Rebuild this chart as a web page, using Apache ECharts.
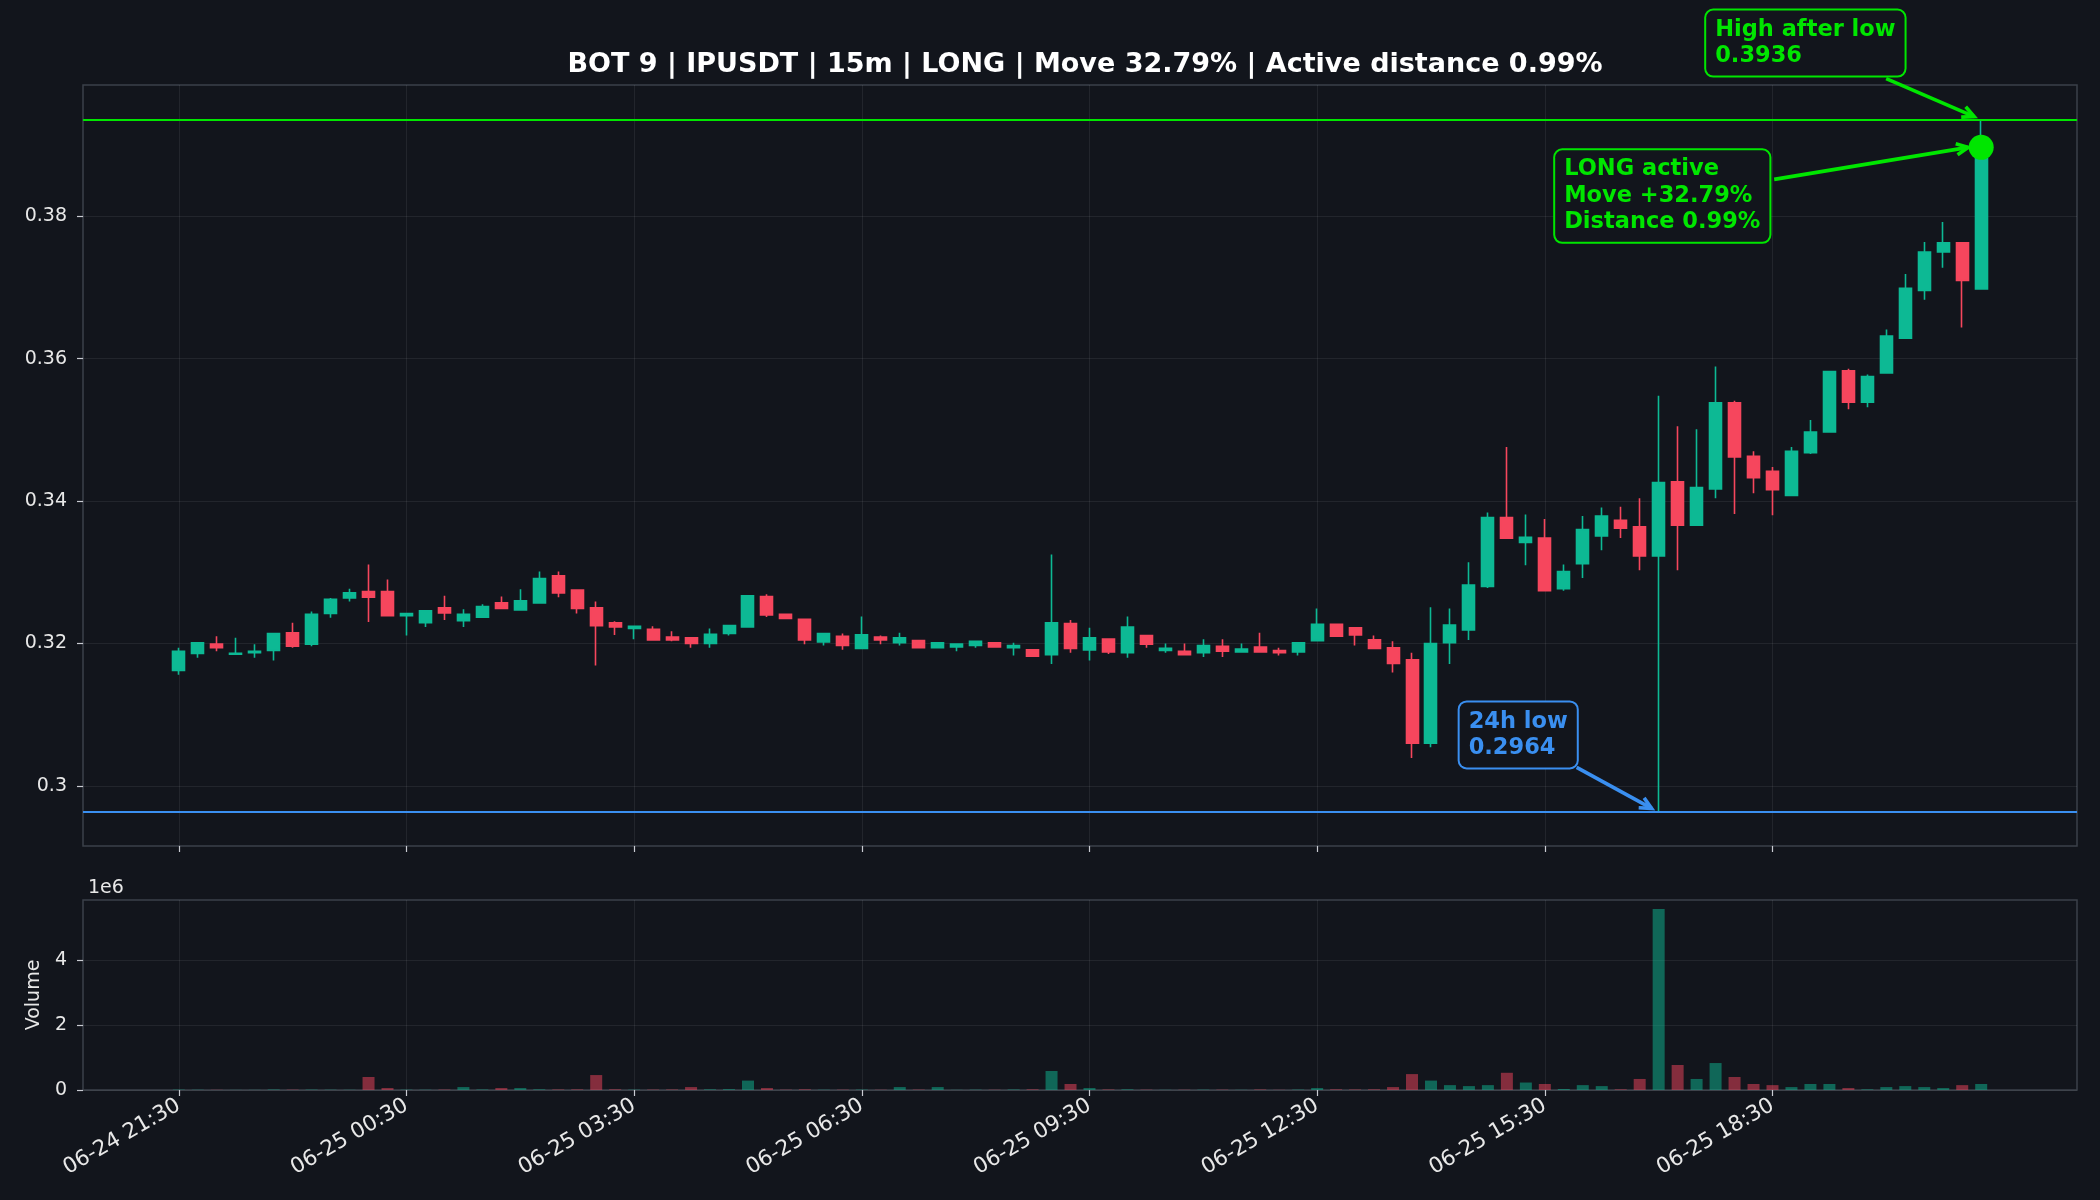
<!DOCTYPE html>
<html>
<head>
<meta charset="utf-8">
<title>BOT 9 IPUSDT</title>
<script src="https://cdn.jsdelivr.net/npm/echarts@6/dist/echarts.min.js"></script>
<style>
  html, body { margin: 0; padding: 0; background: #12151c; }
  #chart { width: 2100px; height: 1200px; }
</style>
</head>
<body>
<div id="chart"></div>
<script>
// 15m candles, 06-24 21:30 -> 06-25 21:15
const opens = [
  0.3162, 0.3186, 0.3199, 0.3185, 0.3187, 0.3190, 0.3215, 0.3199, 0.3242, 0.3264,
  0.3273, 0.3273, 0.3239, 0.3229, 0.3250, 0.3232, 0.3237, 0.3257, 0.3247, 0.3257,
  0.3295, 0.3275, 0.3250, 0.3229, 0.3221, 0.3220, 0.3209, 0.3208, 0.3200, 0.3214,
  0.3223, 0.3266, 0.3241, 0.3234, 0.3202, 0.3210, 0.3193, 0.3209, 0.3201, 0.3204,
  0.3194, 0.3195, 0.3197, 0.3201, 0.3194, 0.3191, 0.3184, 0.3228, 0.3191, 0.3206,
  0.3187, 0.3211, 0.3190, 0.3189, 0.3187, 0.3196, 0.3188, 0.3195, 0.3190, 0.3188,
  0.3204, 0.3227, 0.3222, 0.3205, 0.3194, 0.3177, 0.3060, 0.3201, 0.3219, 0.3280,
  0.3377, 0.3342, 0.3348, 0.3277, 0.3312, 0.3351, 0.3373, 0.3364, 0.3323, 0.3427,
  0.3366, 0.3417, 0.3538, 0.3463, 0.3442, 0.3408, 0.3468, 0.3497, 0.3583, 0.3539,
  0.3580, 0.3629, 0.3696, 0.3750, 0.3763, 0.3698
];
const closes = [
  0.3189, 0.3201, 0.3194, 0.3186, 0.3189, 0.3214, 0.3196, 0.3241, 0.3262, 0.3271,
  0.3265, 0.3239, 0.3242, 0.3246, 0.3243, 0.3241, 0.3252, 0.3249, 0.3260, 0.3291,
  0.3271, 0.3249, 0.3225, 0.3223, 0.3224, 0.3205, 0.3205, 0.3200, 0.3213, 0.3225,
  0.3267, 0.3240, 0.3235, 0.3205, 0.3214, 0.3197, 0.3212, 0.3205, 0.3208, 0.3194,
  0.3201, 0.3199, 0.3203, 0.3195, 0.3197, 0.3182, 0.3229, 0.3193, 0.3208, 0.3188,
  0.3223, 0.3199, 0.3193, 0.3184, 0.3197, 0.3189, 0.3192, 0.3188, 0.3187, 0.3201,
  0.3227, 0.3210, 0.3212, 0.3193, 0.3172, 0.3060, 0.3200, 0.3226, 0.3282, 0.3377,
  0.3348, 0.3349, 0.3274, 0.3301, 0.3360, 0.3379, 0.3362, 0.3323, 0.3426, 0.3366,
  0.3419, 0.3538, 0.3462, 0.3433, 0.3416, 0.3470, 0.3497, 0.3582, 0.3539, 0.3575,
  0.3632, 0.3699, 0.3750, 0.3763, 0.3710, 0.3897
];
const lows = [
  0.3156, 0.3180, 0.3189, 0.3185, 0.3180, 0.3176, 0.3194, 0.3196, 0.3236, 0.3259,
  0.3230, 0.3239, 0.3211, 0.3223, 0.3233, 0.3223, 0.3237, 0.3249, 0.3247, 0.3256,
  0.3265, 0.3242, 0.3169, 0.3212, 0.3206, 0.3205, 0.3203, 0.3194, 0.3194, 0.3211,
  0.3222, 0.3237, 0.3235, 0.3199, 0.3197, 0.3191, 0.3193, 0.3199, 0.3197, 0.3194,
  0.3194, 0.3189, 0.3194, 0.3195, 0.3183, 0.3182, 0.3171, 0.3187, 0.3176, 0.3185,
  0.3180, 0.3194, 0.3187, 0.3184, 0.3181, 0.3181, 0.3187, 0.3187, 0.3183, 0.3183,
  0.3204, 0.3210, 0.3197, 0.3192, 0.3159, 0.3039, 0.3054, 0.3171, 0.3205, 0.3278,
  0.3348, 0.3310, 0.3274, 0.3274, 0.3292, 0.3331, 0.3348, 0.3303, 0.2964, 0.3303,
  0.3366, 0.3404, 0.3382, 0.3411, 0.3380, 0.3408, 0.3466, 0.3496, 0.3529, 0.3532,
  0.3580, 0.3629, 0.3683, 0.3728, 0.3644, 0.3698
];
const highs = [
  0.3194, 0.3201, 0.3210, 0.3208, 0.3199, 0.3214, 0.3229, 0.3245, 0.3264, 0.3277,
  0.3311, 0.3290, 0.3242, 0.3246, 0.3267, 0.3248, 0.3255, 0.3266, 0.3276, 0.3301,
  0.3301, 0.3276, 0.3259, 0.3231, 0.3224, 0.3224, 0.3217, 0.3208, 0.3221, 0.3225,
  0.3267, 0.3269, 0.3241, 0.3234, 0.3215, 0.3214, 0.3238, 0.3211, 0.3215, 0.3204,
  0.3201, 0.3199, 0.3204, 0.3201, 0.3201, 0.3191, 0.3325, 0.3233, 0.3222, 0.3206,
  0.3238, 0.3211, 0.3200, 0.3200, 0.3206, 0.3206, 0.3200, 0.3215, 0.3194, 0.3201,
  0.3249, 0.3227, 0.3222, 0.3211, 0.3203, 0.3187, 0.3251, 0.3249, 0.3314, 0.3384,
  0.3476, 0.3381, 0.3375, 0.3311, 0.3379, 0.3391, 0.3392, 0.3404, 0.3548, 0.3505,
  0.3501, 0.3589, 0.3541, 0.3470, 0.3448, 0.3476, 0.3514, 0.3583, 0.3586, 0.3578,
  0.3641, 0.3719, 0.3764, 0.3792, 0.3764, 0.3936
];
const volumes = [
  12000, 8000, 6000, 4000, 5000, 15000, 10000, 12000, 9000, 7000,
  400000, 60000, 10000, 8000, 12000, 90000, 15000, 60000, 60000, 20000,
  15000, 18000, 460000, 20000, 10000, 12000, 15000, 90000, 20000, 25000,
  290000, 60000, 10000, 20000, 8000, 10000, 12000, 8000, 90000, 12000,
  90000, 6000, 10000, 8000, 15000, 20000, 585000, 185000, 60000, 15000,
  20000, 10000, 6000, 8000, 10000, 10000, 6000, 15000, 6000, 12000,
  60000, 20000, 15000, 20000, 90000, 490000, 290000, 150000, 120000, 150000,
  530000, 230000, 185000, 30000, 150000, 120000, 20000, 340000, 5570000, 770000,
  340000, 830000, 400000, 185000, 150000, 90000, 185000, 185000, 60000, 20000,
  90000, 120000, 90000, 60000, 150000, 185000
];

const xTickIndex = [0, 12, 24, 36, 48, 60, 72, 84];
const xTickLabels = [
  "06-24 21:30", "06-25 00:30", "06-25 03:30", "06-25 06:30",
  "06-25 09:30", "06-25 12:30", "06-25 15:30", "06-25 18:30"
];
const priceTicks = [0.30, 0.32, 0.34, 0.36, 0.38];
const priceTickLabels = ["0.3", "0.32", "0.34", "0.36", "0.38"];
const volumeTicks = [0, 2000000, 4000000];
const volumeTickLabels = ["0", "2", "4"];

const lowLevel = 0.2964;
const highLevel = 0.3936;
const lastClose = 0.3897;
const lowIndex = 78;
const lastIndex = 95;

const UP = "#0db994";
const DOWN = "#f6465d";
const LIME = "#00e600";
const BLUE = "#3a8ff0";
const BG = "#12151c";
const TEXT = "#e8e8e8";
const GRIDLINE = "rgba(255,255,255,0.07)";
const SPINE = "#3b4049";
const FONT = '"DejaVu Sans", sans-serif';

const candleData = opens.map((o, i) => [i, o, closes[i], lows[i], highs[i]]);
const volumeData = volumes.map((v, i) => ({
  value: [i, v],
  itemStyle: { color: closes[i] >= opens[i] ? UP : DOWN, opacity: 0.5 },
}));

function pickLabel(values, labels) {
  return function (v) {
    for (let k = 0; k < values.length; k++) {
      if (Math.abs(values[k] - v) < 1e-9 * Math.max(1, Math.abs(v))) return labels[k];
    }
    return "";
  };
}

const chart = echarts.init(document.getElementById("chart"), null, { renderer: "canvas" });

const xBase = {
  type: "value",
  min: -5.05,
  max: 100.05,
  axisLine: { show: false },
  axisTick: { show: true, customValues: xTickIndex, length: 6, lineStyle: { color: "#c9ccd2", width: 1.2 } },
  splitLine: { show: true, lineStyle: { color: GRIDLINE, width: 1 } },
};

const option = {
  backgroundColor: BG,
  animation: false,
  textStyle: { fontFamily: FONT },
  title: [
    {
      text: "BOT 9 | IPUSDT | 15m | LONG | Move 32.79% | Active distance 0.99%",
      left: 1080,
      top: 46,
      textAlign: "center",
      textStyle: { color: "#ffffff", fontSize: 27, fontWeight: "bold", fontFamily: FONT },
    },
    {
      text: "1e6",
      left: 83,
      top: 874,
      textStyle: { color: TEXT, fontSize: 19, fontWeight: "normal", fontFamily: FONT },
    },
  ],
  grid: [
    { left: 83, top: 85, width: 1994, height: 761, show: true, borderColor: SPINE, borderWidth: 1.5, backgroundColor: "transparent" },
    { left: 83, top: 900, width: 1994, height: 190, show: true, borderColor: SPINE, borderWidth: 1.5, backgroundColor: "transparent" },
  ],
  xAxis: [
    Object.assign({}, xBase, { gridIndex: 0, axisLabel: { show: false } }),
    Object.assign({}, xBase, {
      gridIndex: 1,
      axisLabel: {
        show: true,
        customValues: xTickIndex,
        formatter: pickLabel(xTickIndex, xTickLabels),
        rotate: 30,
        margin: 14,
        color: TEXT,
        fontSize: 21.5,
        fontFamily: FONT,
      },
    }),
  ],
  yAxis: [
    {
      type: "value",
      gridIndex: 0,
      min: 0.29154,
      max: 0.39846,
      axisLine: { show: false, onZero: false },
      axisTick: { show: true, customValues: priceTicks, length: 6, lineStyle: { color: "#c9ccd2", width: 1.2 } },
      axisLabel: { customValues: priceTicks, formatter: pickLabel(priceTicks, priceTickLabels), color: TEXT, fontSize: 19, margin: 16, fontFamily: FONT },
      splitLine: { show: true, lineStyle: { color: GRIDLINE, width: 1 } },
    },
    {
      type: "value",
      gridIndex: 1,
      min: 0,
      max: 5850000,
      name: "Volume",
      nameLocation: "middle",
      nameRotate: 90,
      nameGap: 34,
      nameTextStyle: { color: TEXT, fontSize: 19, fontFamily: FONT },
      axisLine: { show: false, onZero: false },
      axisTick: { show: true, customValues: volumeTicks, length: 6, lineStyle: { color: "#c9ccd2", width: 1.2 } },
      axisLabel: { customValues: volumeTicks, formatter: pickLabel(volumeTicks, volumeTickLabels), color: TEXT, fontSize: 19, margin: 16, fontFamily: FONT },
      splitLine: { show: true, lineStyle: { color: GRIDLINE, width: 1 } },
    },
  ],
  series: [
    {
      type: "candlestick",
      name: "IPUSDT",
      xAxisIndex: 0,
      yAxisIndex: 0,
      data: candleData,
      encode: { x: 0, y: [1, 2, 3, 4] },
      barWidth: 12.5,
      itemStyle: { color: UP, color0: DOWN, borderColor: UP, borderColor0: DOWN, borderWidth: 1.6 },
      markLine: {
        silent: true,
        precision: 6,
        symbol: ["none", "none"],
        label: { show: false },
        data: [
          { yAxis: highLevel, lineStyle: { color: LIME, width: 2.2, type: "solid" } },
          { yAxis: lowLevel, lineStyle: { color: BLUE, width: 2.2, type: "solid" } },
        ],
      },
      z: 3,
    },
    {
      type: "scatter",
      name: "last",
      xAxisIndex: 0,
      yAxisIndex: 0,
      data: [[lastIndex, lastClose]],
      symbol: "circle",
      symbolSize: 25,
      itemStyle: { color: LIME, opacity: 1 },
      z: 5,
    },
    {
      type: "bar",
      name: "Volume",
      xAxisIndex: 1,
      yAxisIndex: 1,
      data: volumeData,
      barWidth: 12,
    },
  ],
};

chart.setOption(option);

// annotation boxes and arrows, placed relative to the data points
const px = (x, y) => chart.convertToPixel({ gridIndex: 0 }, [x, y]);
const graphics = [];

function arrow(from, to, color) {
  const ang = Math.atan2(to[1] - from[1], to[0] - from[0]);
  const L = 13, A = 0.45;
  const p1 = [to[0] - L * Math.cos(ang - A), to[1] - L * Math.sin(ang - A)];
  const p2 = [to[0] - L * Math.cos(ang + A), to[1] - L * Math.sin(ang + A)];
  graphics.push({ type: "line", z: 20, shape: { x1: from[0], y1: from[1], x2: to[0], y2: to[1] }, style: { stroke: color, lineWidth: 3.6 } });
  graphics.push({ type: "polyline", z: 20, shape: { points: [p1, to, p2] }, style: { stroke: color, lineWidth: 3.6, fill: null } });
}

function note(anchor, box, from, to, text, color) {
  const a = px(anchor[0], anchor[1]);
  graphics.push({
    type: "text",
    z: 21,
    x: a[0] + box[0],
    y: a[1] + box[1],
    style: {
      text: text,
      fill: color,
      font: 'bold 22.5px "DejaVu Sans"',
      lineHeight: 26.5,
      align: "left",
      verticalAlign: "top",
      backgroundColor: BG,
      borderColor: color,
      borderWidth: 2,
      borderRadius: 7,
      padding: [6, 9, 6, 9],
    },
  });
  arrow([a[0] + from[0], a[1] + from[1]], [a[0] + to[0], a[1] + to[1]], color);
}

note([lastIndex, highLevel], [-275, -109], [-95, -41], [-7, -3], "High after low\n0.3936", LIME);
note([lastIndex, lastClose], [-426, 3], [-207, 32], [-13, 0], "LONG active\nMove +32.79%\nDistance 0.99%", LIME);
note([lowIndex, lowLevel], [-199, -109], [-82, -44], [-7, -3], "24h low\n0.2964", BLUE);

chart.setOption({ graphic: graphics });
</script>
</body>
</html>
